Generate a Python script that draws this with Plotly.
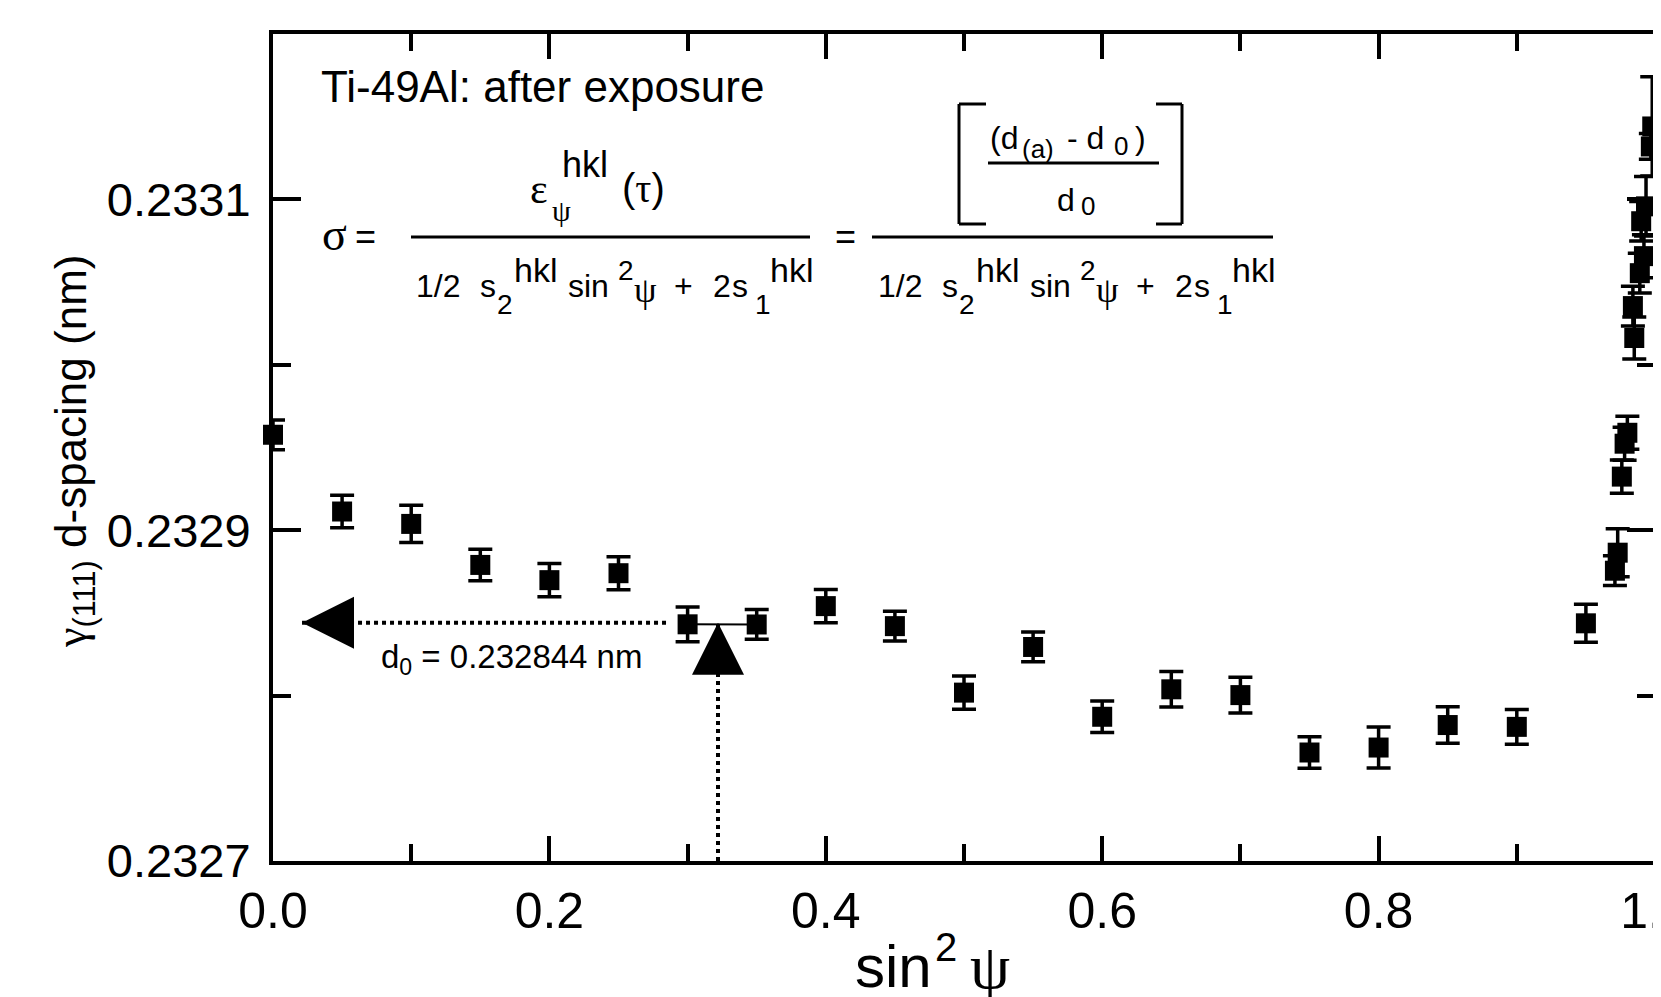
import plotly.graph_objects as go

# ---------------- data ----------------
sin2psi = [0.00, 0.05, 0.10, 0.15, 0.20, 0.25, 0.30, 0.35, 0.40, 0.45,
           0.50, 0.55, 0.60, 0.65, 0.70, 0.75, 0.80, 0.85, 0.90, 0.95,
           0.971, 0.973, 0.976, 0.978, 0.980, 0.985, 0.984, 0.989, 0.992,
           0.990, 0.9935, 0.997, 0.998]
d_spacing = [0.2329577, 0.2329113, 0.2329038, 0.2328790, 0.2328698, 0.2328740,
             0.2328431, 0.2328430, 0.2328541, 0.2328420, 0.2328018, 0.2328294,
             0.2327872, 0.2328038, 0.2328003, 0.2327656, 0.2327686, 0.2327822,
             0.2327811, 0.2328437,
             0.2328755, 0.2328864, 0.2329324, 0.2329523, 0.2329589, 0.2330162,
             0.2330355, 0.2330554, 0.2330657, 0.2330868, 0.2330958, 0.2331320,
             0.2331441]
d_err = [9.0e-6, 9.8e-6, 1.13e-5, 9.5e-6, 1.0e-5, 1.0e-5, 1.05e-5, 9.0e-6, 1.0e-5, 9.0e-6,
         1.0e-5, 9.0e-6, 9.5e-6, 1.07e-5, 1.08e-5, 9.5e-6, 1.24e-5, 1.1e-5, 1.05e-5, 1.15e-5,
         9.0e-6, 1.45e-5, 1.0e-5, 1.0e-5, 1.0e-5, 1.27e-5, 1.2e-5, 1.2e-5, 1.3e-5,
         1.2e-5, 1.8e-5, 7.8e-6, 3.0e-5]

fit_x = [sin2psi[6], sin2psi[7]]
fit_y = [d_spacing[6], d_spacing[7]]

d0 = 0.232844          # nm
x_d0 = 0.322           # sin^2 psi where the fit crosses d0
x_arrow_left = 0.021   # tip of the horizontal arrow
x_dot_end = 0.285
y_min, y_max = 0.2327, 0.2332
x_min, x_max = 0.0, 1.0

x_ticks = [0.0, 0.2, 0.4, 0.6, 0.8, 1.0]
y_ticks = [0.2327, 0.2329, 0.2331]

# ---------------- layout helpers (page pixel coordinates) ----------------
W, H = 1661, 997
OFF = 8                                   # default body margin of the html page
PL, PR, PT, PB = 273, 1655, 34, 861       # plot area on the page
SANS = "Liberation Sans, Arial, Helvetica, sans-serif"


def fx(p):
    return (p - PL) / (PR - PL)


def fy(p):
    return (PB - p) / (PB - PT)


annotations = []
shapes = []


def label(text, x, y, size, xanchor="left", angle=0):
    annotations.append(dict(text=text, x=fx(x), y=fy(y), xref="paper", yref="paper",
                            xanchor=xanchor, yanchor="middle", showarrow=False,
                            textangle=angle, borderpad=0,
                            font=dict(size=size, family=SANS, color="black")))


def hline(x0, x1, y, w=3):
    shapes.append(dict(type="line", xref="paper", yref="paper", x0=fx(x0), x1=fx(x1),
                       y0=fy(y), y1=fy(y), line=dict(color="black", width=w)))


def vline(x, y0, y1, w=3):
    shapes.append(dict(type="line", xref="paper", yref="paper", x0=fx(x), x1=fx(x),
                       y0=fy(y0), y1=fy(y1), line=dict(color="black", width=w)))


def greek(ch):
    return "<span style='font-family:Liberation Serif'>" + ch + "</span>"


# ---------------- figure ----------------
fig = go.Figure()

# dotted guide lines
fig.add_trace(go.Scatter(x=[x_arrow_left, x_dot_end], y=[d0, d0], mode="lines",
                         line=dict(color="black", width=4, dash="4px,4px"),
                         hoverinfo="skip", showlegend=False, cliponaxis=False))
fig.add_trace(go.Scatter(x=[x_d0, x_d0], y=[y_min, d0], mode="lines",
                         line=dict(color="black", width=4, dash="4px,4px"),
                         hoverinfo="skip", showlegend=False, cliponaxis=False))
# short fit segment
fig.add_trace(go.Scatter(x=fit_x, y=fit_y, mode="lines",
                         line=dict(color="black", width=2),
                         hoverinfo="skip", showlegend=False))
# data
fig.add_trace(go.Scatter(x=sin2psi, y=d_spacing, mode="markers",
                         marker=dict(symbol="square", size=20, color="black",
                                     line=dict(width=0)),
                         error_y=dict(type="data", array=d_err, visible=True,
                                      color="black", thickness=3.5, width=12),
                         showlegend=False, cliponaxis=False))
# arrow heads
fig.add_trace(go.Scatter(x=[x_arrow_left], y=[d0], mode="markers",
                         marker=dict(symbol="arrow-left", size=52, color="black",
                                     line=dict(width=0)),
                         showlegend=False, cliponaxis=False, hoverinfo="skip"))
fig.add_trace(go.Scatter(x=[x_d0], y=[d0], mode="markers",
                         marker=dict(symbol="arrow-up", size=52, color="black",
                                     line=dict(width=0)),
                         showlegend=False, cliponaxis=False, hoverinfo="skip"))

# ---------------- texts ----------------
label("Ti-49Al: after exposure", 320, 87, 44)
label("d<sub>0</sub> = 0.232844 nm", 380, 659, 33)

# sigma = ...
label(greek("σ"), 321, 234, 46)
label("=", 354, 237, 36)
# numerator 1
label(greek("ε"), 529, 189, 42)
label(greek("ψ"), 551, 210, 30)
label("hkl", 561, 165, 36)
label("(" + greek("τ") + ")", 621, 189, 40)
hline(411, 810, 237)


def denominator(dx):
    label("1/2", 415 + dx, 286, 32)
    label("s", 479 + dx, 286, 32)
    label("2", 496 + dx, 304, 28)
    label("hkl", 513 + dx, 270, 34)
    label("sin", 567 + dx, 286, 32)
    label("2", 617 + dx, 270, 28)
    label(greek("ψ"), 633 + dx, 290, 36)
    label("+", 673 + dx, 286, 32)
    label("2", 712 + dx, 286, 32)
    label("s", 731 + dx, 286, 32)
    label("1", 754 + dx, 304, 28)
    label("hkl", 769 + dx, 270, 34)


denominator(0)
label("=", 834, 237, 36)
hline(872, 1273, 237)
denominator(462)

# bracketed fraction
vline(959, 104, 224)
hline(959, 986, 104)
hline(959, 986, 224)
vline(1182, 104, 224)
hline(1156, 1182, 104)
hline(1156, 1182, 224)
label("(d", 989, 138, 32)
label("(a)", 1021, 149, 26)
label("- d", 1066, 138, 32)
label("0", 1113, 146, 26)
label(")", 1134, 138, 32)
hline(988, 1159, 163)
label("d", 1056, 200, 32)
label("0", 1080, 206, 26)

# axis titles
label("sin", 854, 966, 60)
label("2", 934, 947, 40)
label(greek("ψ"), 969, 966, 64)
label(greek("γ") + "<sub>(111)</sub> d-spacing (nm)", 74, 452, 44, xanchor="center", angle=-90)

axis_common = dict(showline=True, linewidth=4, linecolor="black", mirror="ticks",
                   ticks="inside", tickwidth=3.5, tickcolor="black",
                   showgrid=False, zeroline=False, ticklabeloverflow="allow",
                   automargin=False)

fig.update_layout(
    width=W, height=H,
    margin=dict(l=PL - OFF, r=W - PR + OFF, t=PT - OFF, b=H - PB + OFF,
                autoexpand=False),
    paper_bgcolor="white", plot_bgcolor="white",
    xaxis=dict(range=[x_min, x_max], tickvals=x_ticks, ticktext=[f"{v:.1f}" for v in x_ticks],
               ticklen=25, ticklabelstandoff=3,
               tickfont=dict(size=50, family=SANS, color="black"),
               minor=dict(dtick=0.1, tick0=0, ticks="inside", ticklen=17, tickwidth=3.5,
                          tickcolor="black", showgrid=False),
               **axis_common),
    yaxis=dict(range=[y_min, y_max], tickvals=y_ticks, ticktext=[f"{v:.4f}" for v in y_ticks],
               ticklen=28, ticklabelstandoff=9,
               tickfont=dict(size=47, family=SANS, color="black"),
               minor=dict(dtick=0.0001, tick0=0.2327, ticks="inside", ticklen=18,
                          tickwidth=3.5, tickcolor="black", showgrid=False),
               **axis_common),
    annotations=annotations,
    shapes=shapes,
    font=dict(family=SANS, color="black"),
)

fig.write_html("out.html")
